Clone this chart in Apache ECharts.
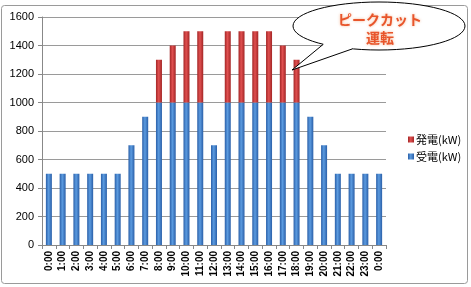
<!DOCTYPE html>
<html><head><meta charset="utf-8">
<script src="https://cdn.jsdelivr.net/npm/echarts@6/dist/echarts.min.js"></script>
<style>html,body{margin:0;padding:0;background:#fff}#c{width:471px;height:287px}</style>
</head><body><div id="c"></div>
<script>
const categories = ['0:00','1:00','2:00','3:00','4:00','5:00','6:00','7:00','8:00','9:00','10:00','11:00','12:00','13:00','14:00','15:00','16:00','17:00','18:00','19:00','20:00','21:00','22:00','23:00','0:00'];
const juden = [500,500,500,500,500,500,700,900,1000,1000,1000,1000,700,1000,1000,1000,1000,1000,1000,900,700,500,500,500,500];
const hatsuden = [0,0,0,0,0,0,0,0,300,400,500,500,0,500,500,500,500,400,300,0,0,0,0,0,0];
const yTicks = [0,200,400,600,800,1000,1200,1400,1600];

function grad(dark, light){
  return new echarts.graphic.LinearGradient(0,0,1,0,[
    {offset:0,color:dark},{offset:0.45,color:light},{offset:1,color:dark}]);
}
const chart = echarts.init(document.getElementById('c'));
chart.setOption({
  animation:false,
  backgroundColor:'#fff',
  grid:{left:42,right:85,top:17,bottom:42},
  legend:{
    orient:'vertical', left:403, top:129, itemWidth:6, itemHeight:6, itemGap:6,
    icon:'rect',
    textStyle:{fontSize:11,color:'#000',fontFamily:'"Noto Sans CJK JP",sans-serif',padding:[0,0,0,-3]},
    data:['発電(kW)','受電(kW)']
  },
  xAxis:{
    type:'category', data:categories, boundaryGap:true,
    axisLine:{lineStyle:{color:'#888'}},
    axisTick:{show:true,alignWithLabel:false,length:4,lineStyle:{color:'#888'}},
    axisLabel:{rotate:90,interval:0,fontSize:10,fontWeight:'bold',color:'#000',fontFamily:'Liberation Sans, Arial',margin:6}
  },
  yAxis:{
    type:'value', min:yTicks[0], max:yTicks[yTicks.length-1], interval:200,
    axisLine:{show:true,lineStyle:{color:'#888'}},
    axisTick:{show:true,length:4,lineStyle:{color:'#888'}},
    splitLine:{lineStyle:{color:'#9a9a9a',width:1}},
    axisLabel:{fontSize:11,color:'#000',fontFamily:'Liberation Sans, Arial',margin:8,formatter:v=>String(v)}
  },
  series:[
    {name:'受電(kW)',type:'bar',stack:'a',data:juden,barWidth:6,
     itemStyle:{color:grad('#2a5fa8','#5b9be0')}},
    {name:'発電(kW)',type:'bar',stack:'a',data:hatsuden,barWidth:6,
     itemStyle:{color:grad('#a32525','#e05050')}}
  ],
  color:['#3a75c4','#c0392b'],
  graphic:[
    {type:'rect',shape:{x:1.5,y:5.5,width:466,height:278,r:3},style:{fill:'none',stroke:'#9a9a9a',lineWidth:1},z:-1},
    {type:'ellipse',shape:{cx:379,cy:26,rx:86,ry:24},style:{fill:'#fff',stroke:'#000',lineWidth:1},z:10},
    {type:'polygon',shape:{points:[[323.5,44.5],[292,70],[352,49],[352,43],[323.5,41]]},style:{fill:'#fff',stroke:'none'},z:11},
    {type:'polyline',shape:{points:[[323,44.5],[292,70],[352,49]]},style:{fill:'none',stroke:'#000',lineWidth:1},z:12},
    {type:'text',style:{x:380,y:20,text:'ピークカット',font:'bold 14px "Noto Sans CJK JP"',fill:'#e8552b',align:'center',verticalAlign:'middle',textShadowColor:'rgba(240,150,100,0.7)',textShadowBlur:3},z:13},
    {type:'text',style:{x:380,y:38,text:'運転',font:'bold 14px "Noto Sans CJK JP"',fill:'#e8552b',align:'center',verticalAlign:'middle',textShadowColor:'rgba(240,150,100,0.7)',textShadowBlur:3},z:13}
  ]
});
</script></body></html>
